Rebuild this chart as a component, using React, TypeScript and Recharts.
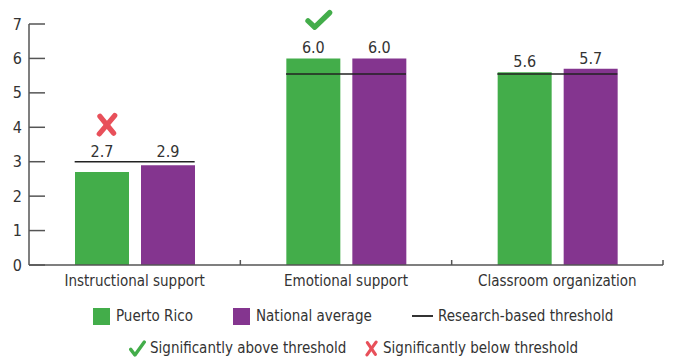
import { ComposedChart, Bar, Line, XAxis, YAxis, LabelList } from "recharts";

const categories = ["Instructional support", "Emotional support", "Classroom organization"];
const puertoRico = [2.7, 6.0, 5.6];
const nationalAverage = [2.9, 6.0, 5.7];
const threshold = [3.0, 5.55, 5.55];
const significance: (string | null)[] = ["below", "above", null];
const yTicks = [0, 1, 2, 3, 4, 5, 6, 7];

const GREEN = "#43ad4a";
const PURPLE = "#84358f";
const RED = "#e8505a";
const TEXT = "#333333";
const AXIS = "#555555";
const FONT = "'Liberation Sans Narrow', 'DejaVu Sans Condensed', 'Roboto', sans-serif";

const data = categories.map((category, i) => ({
  category,
  pr: puertoRico[i],
  nat: nationalAverage[i],
  thr: threshold[i],
}));

// brush-like check and cross, drawn as thick strokes
const CheckPath = ({ x, y, w, h }: { x: number; y: number; w: number; h: number }) => (
  <polyline
    points={`${x + w * 0.1},${y + h * 0.55} ${x + w * 0.35},${y + h * 0.88} ${x + w * 0.9},${y + h * 0.12}`}
    fill="none"
    stroke={GREEN}
    strokeWidth={Math.max(3, w * 0.2)}
    strokeLinecap="round"
    strokeLinejoin="round"
  />
);

const CrossPath = ({ x, y, w, h }: { x: number; y: number; w: number; h: number }) => {
  const sw = Math.max(3, w * 0.24);
  return (
    <g stroke={RED} strokeWidth={sw} strokeLinecap="round">
      <line x1={x + w * 0.18} y1={y + h * 0.15} x2={x + w * 0.8} y2={y + h * 0.85} />
      <line x1={x + w * 0.85} y1={y + h * 0.12} x2={x + w * 0.15} y2={y + h * 0.88} />
    </g>
  );
};

// y ticks drawn inward from the axis, labels to the left
const YTick = (props: any) => {
  const { x, y, payload } = props;
  return (
    <g>
      <line x1={x} x2={x + 16} y1={y} y2={y} stroke={AXIS} strokeWidth={1.5} />
      <text x={x - 7} y={y} dy={5.5} textAnchor="end" fontSize={16} fill={TEXT} fontFamily={FONT}>
        {payload.value}
      </text>
    </g>
  );
};

// category label in the middle, small upward tick at each right boundary
const XTick = (props: any) => {
  const { x, y, payload } = props;
  const half = payload.offset ?? 0;
  return (
    <g>
      {half > 0 && (
        <line x1={x + half} x2={x + half} y1={y - 5} y2={y} stroke={AXIS} strokeWidth={1.5} />
      )}
      <text x={x} y={y + 21} textAnchor="middle" fontSize={15} fill={TEXT} fontFamily={FONT}>
        {payload.value}
      </text>
    </g>
  );
};

const makeLabel = (withMarker: boolean) => (props: any) => {
  const { x, y, width, height, value, index } = props;
  const xn = Number(x);
  const yn = Number(y);
  const w = Number(width);
  const h = Number(height);
  const v = Number(value);
  const base = yn + h;
  const thrY = base - (threshold[index] * h) / v;
  const labelY = Math.min(yn, thrY) - 5;
  const cx = xn + w / 2;
  const sig = significance[index];
  return (
    <g key={`lab-${index}`}>
      <text x={cx} y={labelY} textAnchor="middle" fontSize={16} fill={TEXT} fontFamily={FONT}>
        {v.toFixed(1)}
      </text>
      {withMarker && sig === "above" && <CheckPath x={cx - 8} y={labelY - 43} w={27} h={19} />}
      {withMarker && sig === "below" && <CrossPath x={cx - 6} y={labelY - 44} w={22} h={24} />}
    </g>
  );
};

const ThresholdMark = (props: any) => {
  const { cx, cy, index } = props;
  return (
    <line key={`thr-${index}`} x1={cx - 60} x2={cx + 60} y1={cy} y2={cy} stroke="#222" strokeWidth={1.5} />
  );
};

const legendText = { fontFamily: FONT, fontSize: 15, color: TEXT, whiteSpace: "nowrap" as const };
const row = (left: number, top: number) => ({
  position: "absolute" as const,
  left,
  top,
  display: "flex",
  alignItems: "center",
  height: 20,
});

export default function App() {
  return (
    <div style={{ position: "absolute", left: 0, top: 0, width: 673, height: 360, background: "#fff" }}>
      <ComposedChart
        width={673}
        height={360}
        data={data}
        margin={{ top: 24, right: 10, left: 0, bottom: 65 }}
        barSize={54}
        barGap={12}
      >
        <XAxis
          dataKey="category"
          height={30}
          axisLine={{ stroke: AXIS, strokeWidth: 1.5 }}
          tickLine={false}
          tickSize={0}
          tickMargin={0}
          tick={<XTick />}
          interval={0}
        />
        <YAxis
          width={29}
          domain={[0, 7]}
          ticks={yTicks}
          axisLine={{ stroke: AXIS, strokeWidth: 1.5 }}
          tickLine={false}
          tickSize={0}
          tickMargin={0}
          tick={<YTick />}
          interval={0}
        />
        <Bar dataKey="pr" fill={GREEN} isAnimationActive={false}>
          <LabelList dataKey="pr" content={makeLabel(true)} />
        </Bar>
        <Bar dataKey="nat" fill={PURPLE} isAnimationActive={false}>
          <LabelList dataKey="nat" content={makeLabel(false)} />
        </Bar>
        <Line
          dataKey="thr"
          stroke="none"
          dot={(p: any) => <ThresholdMark {...p} />}
          activeDot={false}
          isAnimationActive={false}
        />
      </ComposedChart>

      <div style={row(93, 306)}>
        <div style={{ width: 17, height: 17, background: GREEN, marginRight: 6 }} />
        <span style={legendText}>Puerto Rico</span>
      </div>
      <div style={row(233, 306)}>
        <div style={{ width: 17, height: 17, background: PURPLE, marginRight: 6 }} />
        <span style={legendText}>National average</span>
      </div>
      <div style={row(412, 306)}>
        <div style={{ width: 21, height: 1.5, background: TEXT, marginRight: 5 }} />
        <span style={legendText}>Research-based threshold</span>
      </div>
      <div style={row(129, 338)}>
        <svg width={17} height={17} style={{ marginRight: 4 }}>
          <CheckPath x={0} y={0} w={17} h={17} />
        </svg>
        <span style={legendText}>Significantly above threshold</span>
      </div>
      <div style={row(365, 338)}>
        <svg width={13} height={17} style={{ marginRight: 5 }}>
          <CrossPath x={0} y={0} w={13} h={17} />
        </svg>
        <span style={legendText}>Significantly below threshold</span>
      </div>
    </div>
  );
}
